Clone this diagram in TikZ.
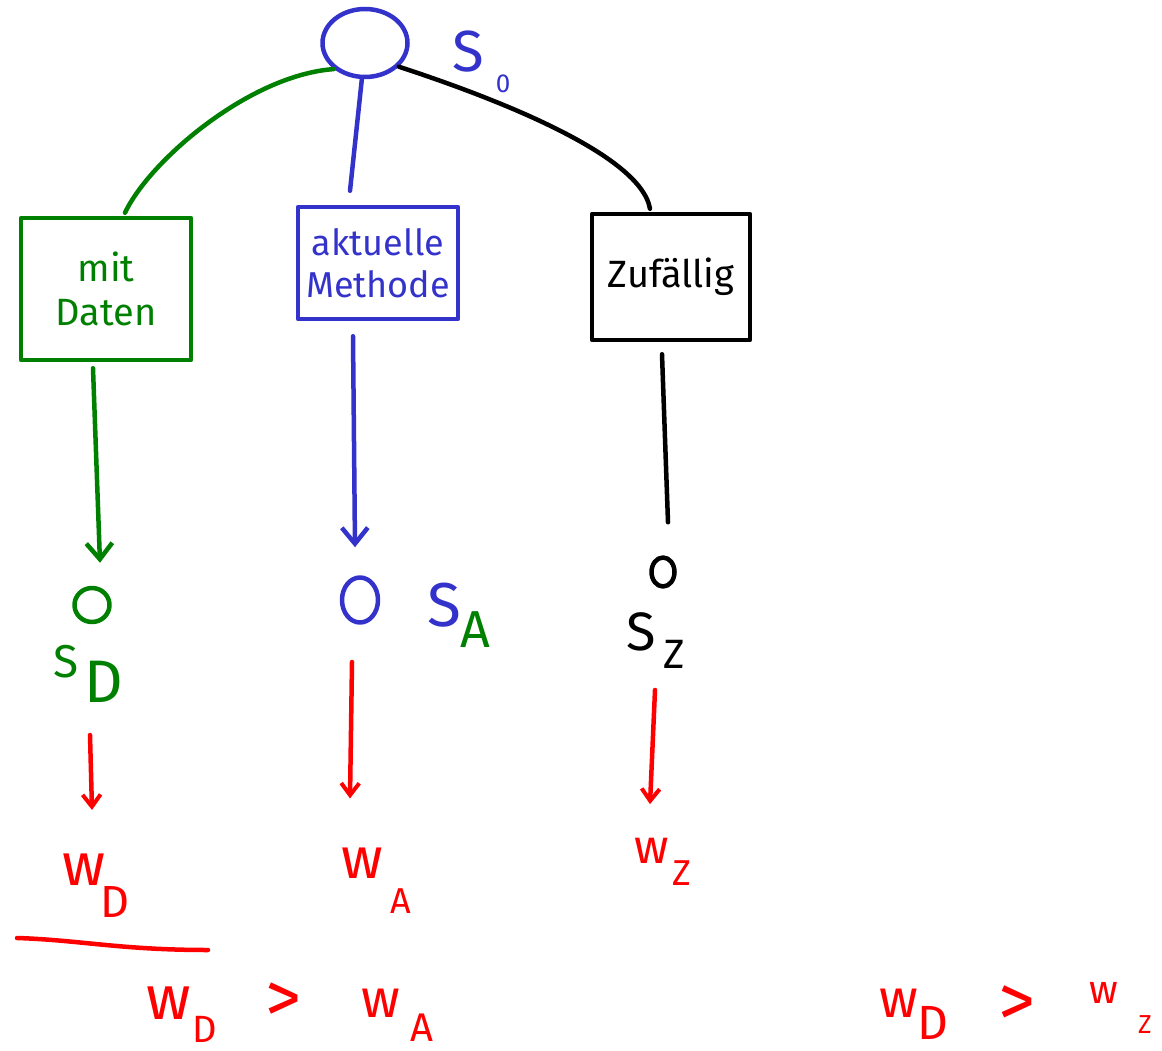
\documentclass[tikz,border=0pt]{standalone}
\usepackage{fontspec}
\setmainfont{Fira Sans}
\usetikzlibrary{shapes.geometric,arrows.meta,calc}
\definecolor{hgreen}{RGB}{0,128,0}
\definecolor{hblue}{RGB}{51,51,204}
\definecolor{hred}{RGB}{255,0,0}
\newcommand{\hsz}[1]{\fontsize{#1}{#1}\selectfont}
\begin{document}
\begin{tikzpicture}[x=1pt,y=-1pt, line width=4.5pt, line cap=round, line join=round,
  barb/.style={-{Straight Barb[length=16pt,width=26pt,line width=4.5pt]}},
  rbarb/.style={-{Straight Barb[length=12pt,width=18pt,line width=4pt]}},
  boxnode/.style={draw, rectangle, inner sep=0pt, align=center},
  knot/.style={draw, ellipse, inner sep=0pt},
  glyph/.style={inner sep=0pt},
]
\useasboundingbox (0,0) rectangle (1162,1051);

% top state
\node[knot, hblue, minimum width=85pt, minimum height=68pt] (s0) at (365,43) {};
\node[glyph, hblue, font=\hsz{58}] (s0S) at (468,52) {S};
\node[glyph, hblue, font=\hsz{26}] (s0i) at (503,84) {0};

% boxes
\node[boxnode, hgreen, minimum width=170pt, minimum height=142pt, font=\fontsize{38}{44}\selectfont] (gbox) at (106,289) {mit\\Daten};
\node[boxnode, hblue, minimum width=160pt, minimum height=112pt, font=\fontsize{36}{42}\selectfont] (bbox) at (378,263) {aktuelle\\Methode};
\node[boxnode, black, minimum width=158pt, minimum height=126pt, font=\hsz{38}] (kbox) at (671,277) {Zufällig};

% connectors from s0
\draw[hgreen] (s0.220) .. controls (250,75) and (150,160) .. ($(gbox.north)+(19,-3)$);
\draw[hblue] (s0.265) -- ($(bbox.north)+(-28,-14)$);
\draw[black] (s0.-35) .. controls (470,90) and (640,150) .. ($(kbox.north)+(-21,-3)$);

% resulting states
\node[knot, hgreen, minimum width=35pt, minimum height=34pt] (sDc) at (92,605) {};
\node[knot, hblue, minimum width=36pt, minimum height=45pt] (sAc) at (360,600) {};
\node[knot, black, minimum width=23pt, minimum height=29pt] (sZc) at (663,572) {};

\draw[hgreen, barb] ($(gbox.south)+(-13,6)$) -- ($(sDc.north)+(8,-23)$);
\draw[hblue, barb] ($(bbox.south)+(-25,15)$) -- ($(sAc.north)+(-5,-28)$);
\draw[black] ($(kbox.south)+(-9,12)$) -- ($(sZc.north)+(5,-33)$);

% state labels
\node[glyph, hgreen, font=\hsz{46}] (sDS) at (66,662) {S};
\node[glyph, hgreen, font=\hsz{60}] (sDD) at (104,682) {D};
\node[glyph, hblue, font=\hsz{62}] (sAS) at (444,605) {S};
\node[glyph, hgreen, font=\hsz{52}] (sAA) at (475,630) {A};
\node[glyph, black, font=\hsz{54}] (sZS) at (641,632) {S};
\node[glyph, black, font=\hsz{41}] (sZZ) at (674,654) {Z};

% values
\node[glyph, hred, font=\hsz{60}] (wDw) at (84,870) {w};
\node[glyph, hred, font=\hsz{45}] (wDD) at (115,902) {D};
\node[glyph, hred, font=\hsz{58}] (wAw) at (362,863) {w};
\node[glyph, hred, font=\hsz{36}] (wAA) at (401,901) {A};
\node[glyph, hred, font=\hsz{48}] (wZw) at (652,851) {w};
\node[glyph, hred, font=\hsz{36}] (wZZ) at (682,873) {Z};

\coordinate (rD) at (90,735);
\coordinate (rA) at (352,662);
\coordinate (rZ) at (655,690);
\draw[hred, rbarb] (rD) -- ($(wDw.north)+(8,-42)$);
\draw[hred, rbarb] (rA) -- ($(wAw.north)+(-12,-47)$);
\draw[hred, rbarb] (rZ) -- ($(wZw.north)+(-2,-32)$);

% underline
\coordinate (ul1) at (17,938);
\coordinate (ul2) at (208,950);
\draw[hred] (ul1) .. controls (80,940) and (120,950) .. (ul2);

% comparisons
\node[glyph, hred, font=\hsz{62}] (c1w) at (169,1003) {w};
\node[glyph, hred, font=\hsz{38}] (c1D) at (205,1029) {D};
\node[glyph, hred, font=\hsz{72}] (c1g) at (283,1003) {>};
\node[glyph, hred, font=\hsz{54}] (c1v) at (381,1003) {w};
\node[glyph, hred, font=\hsz{40}] (c1A) at (422,1028) {A};

\node[glyph, hred, font=\hsz{54}] (c2w) at (899,1003) {w};
\node[glyph, hred, font=\hsz{48}] (c2D) at (933,1023) {D};
\node[glyph, hred, font=\hsz{74}] (c2g) at (1017,1006) {>};
\node[glyph, hred, font=\hsz{40}] (c2v) at (1104,993) {w};
\node[glyph, hred, font=\hsz{26}] (c2Z) at (1145,1025) {Z};
\end{tikzpicture}
\end{document}
